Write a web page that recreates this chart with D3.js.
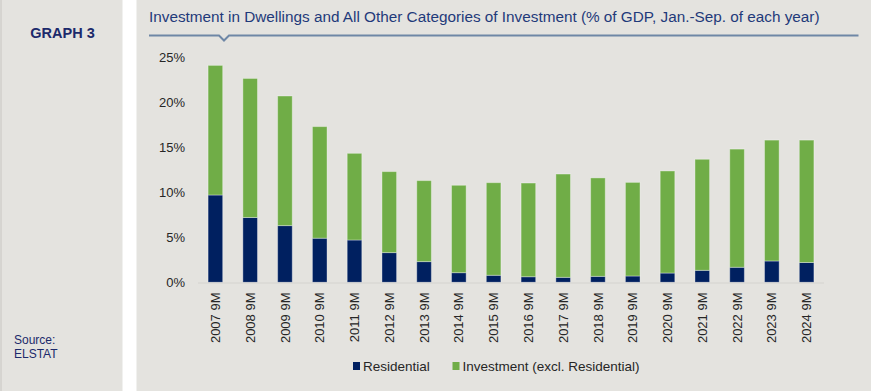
<!DOCTYPE html>
<html><head><meta charset="utf-8">
<script src="https://cdn.jsdelivr.net/npm/d3@7"></script>
<style>
html,body{margin:0;padding:0;background:#fff;}
svg{display:block;font-family:"Liberation Sans",Arial,sans-serif;}
</style></head>
<body>
<svg id="chart" width="871" height="391"></svg>
<script>
const categories = ["2007 9M","2008 9M","2009 9M","2010 9M","2011 9M","2012 9M","2013 9M","2014 9M","2015 9M","2016 9M","2017 9M","2018 9M","2019 9M","2020 9M","2021 9M","2022 9M","2023 9M","2024 9M"];
const residential = [9.7,7.2,6.3,4.9,4.7,3.3,2.3,1.07,0.78,0.62,0.55,0.66,0.7,1.03,1.33,1.67,2.37,2.2];
const totalInvestment = [24.1,22.65,20.7,17.3,14.33,12.3,11.3,10.78,11.07,11.03,12.03,11.6,11.1,12.37,13.67,14.8,15.8,15.8];
const otherInvestment = totalInvestment.map((t,i)=>+(t-residential[i]).toFixed(2));
const yTicks = [0,5,10,15,20,25];
const seriesNames = ["Residential","Investment (excl. Residential)"];
const seriesColors = ["#002060","#70AD47"];
const titleText = "Investment in Dwellings and All Other Categories of Investment (% of GDP, Jan.-Sep. of each year)";

const svg = d3.select("#chart");
const panelBg = "#E4E3DF";
svg.append("rect").attr("x",0).attr("y",0).attr("width",122.5).attr("height",391).attr("fill",panelBg);
svg.append("line").attr("x1",1).attr("x2",1).attr("y1",0).attr("y2",391).attr("stroke","#c8c6c2").attr("stroke-width",1);
svg.append("rect").attr("x",136.5).attr("y",0).attr("width",871-136.5).attr("height",391).attr("fill",panelBg);

// left texts
svg.append("text").attr("x",62.5).attr("y",37.5).attr("text-anchor","middle")
  .attr("font-size",14.5).attr("font-weight","bold").attr("fill","#1C2A6B").text("GRAPH 3");
svg.append("text").attr("x",14).attr("y",344).attr("font-size",12).attr("fill","#1C2A6B").text("Source:");
svg.append("text").attr("x",14).attr("y",358).attr("font-size",12).attr("fill","#1C2A6B").text("ELSTAT");

// title
svg.append("text").attr("x",149).attr("y",21.5).attr("font-size",15.3).attr("fill","#1F3A7A").text(titleText);
svg.append("path").attr("d","M149,35.5 L219,35.5 L224,40.5 L229,35.5 L858.5,35.5")
  .attr("fill","none").attr("stroke","#6E87A6").attr("stroke-width",2);

// scales
const x = d3.scaleBand().domain(categories).range([198,824]).paddingInner(0.58).paddingOuter(0.29);
const y = d3.scaleLinear().domain([0,25]).range([282.3,57.3]);

// y axis
const yAxis = d3.axisLeft(y).tickValues(yTicks).tickFormat(d=>d+"%").tickSize(0).tickPadding(0);
const gy = svg.append("g").attr("transform","translate(185,0)").call(yAxis);
gy.select(".domain").remove();
gy.selectAll("text").attr("font-size",13).attr("fill","#262626").attr("font-family","Liberation Sans, Arial, sans-serif").attr("dy","0.35em");

// stacked bars
const stackData = categories.map((c,i)=>({cat:c, res:residential[i], oth:otherInvestment[i]}));
const stack = d3.stack().keys(["res","oth"])(stackData);
svg.append("g").selectAll("g").data(stack).join("g")
  .attr("fill",(d,i)=>seriesColors[i])
  .selectAll("rect").data(d=>d).join("rect")
  .attr("x",d=>x(d.data.cat)).attr("width",x.bandwidth())
  .attr("y",d=>y(d[1])).attr("height",d=>y(d[0])-y(d[1]))
  .attr("stroke","rgba(255,255,255,0.35)").attr("stroke-width",1);

// x axis
const xAxis = d3.axisBottom(x).tickSize(0).tickPadding(0);
const gx = svg.append("g").attr("transform","translate(0,282.5)").call(xAxis);
gx.select(".domain").attr("stroke","#D4D3CF").attr("stroke-width",1).attr("d","M198,0.5H824");
gx.selectAll("text").attr("font-size",13).attr("fill","#262626")
  .attr("font-family","Liberation Sans, Arial, sans-serif")
  .attr("transform","rotate(-90)").attr("text-anchor","end")
  .attr("x",-10).attr("y",0).attr("dy","0.35em");

// legend
const legendX = [353, 452.5];
seriesNames.forEach((n,i)=>{
  const g = svg.append("g").attr("transform",`translate(${legendX[i]},366)`);
  g.append("rect").attr("x",0).attr("y",-4).attr("width",7).attr("height",8).attr("fill",seriesColors[i]);
  g.append("text").attr("x",10).attr("y",0).attr("dy","0.35em").attr("font-size",13.5)
    .attr("fill","#262626").text(n);
});
</script>
</body></html>
